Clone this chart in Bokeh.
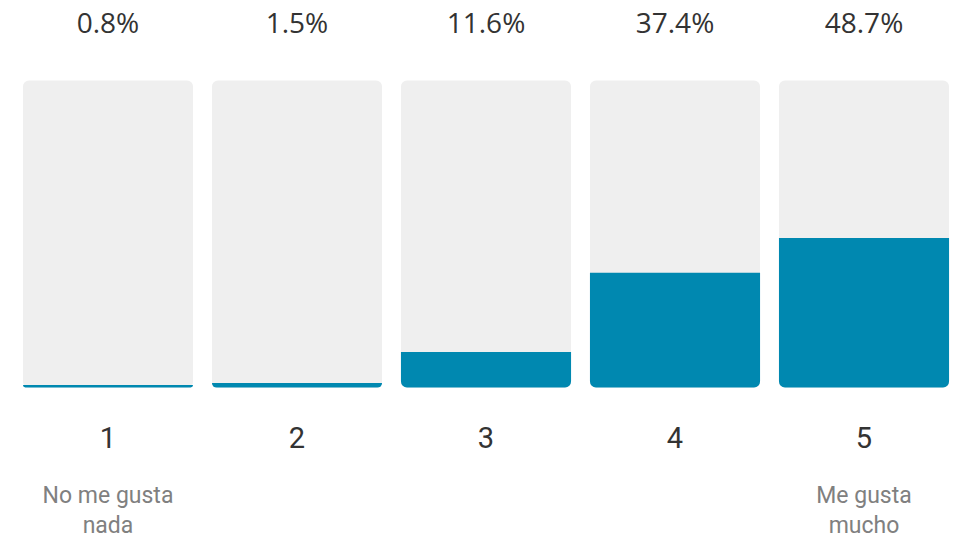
from bokeh.plotting import figure
from bokeh.models import ColumnDataSource, Range1d
from bokeh.core.properties import value
from bokeh.embed import file_html
from bokeh.resources import INLINE

ratings = ["1", "2", "3", "4", "5"]
percents = [0.8, 1.5, 11.6, 37.4, 48.7]
pct_labels = ["0.8%", "1.5%", "11.6%", "37.4%", "48.7%"]
end_labels = ["No me gusta\nnada", "", "", "", "Me gusta\nmucho"]

xs = list(range(len(ratings)))
src = ColumnDataSource(dict(
    x=xs, pct=percents, full=[100] * len(xs),
    pct_label=pct_labels, rating=ratings, end=end_labels,
))

p = figure(width=953, height=538, output_backend="svg", toolbar_location=None,
           x_axis_location=None, y_axis_location=None,
           x_range=Range1d(-0.5688, 4.4735), y_range=Range1d(-49.19, 126.06),
           min_border=0, outline_line_color=None, background_fill_color="white",
           border_fill_color="white")
p.xgrid.visible = False
p.ygrid.visible = False

p.vbar(x="x", top="full", bottom=0, width=0.9, source=src,
       fill_color="#efefef", line_color=None, border_radius=6)
p.vbar(x="x", top="pct", bottom=0, width=0.9, source=src,
       fill_color="#0088b0", line_color=None, border_radius=(0, 0, 6, 6))

p.text(x="x", y=118.9, text="pct_label", source=src, text_align="center",
       text_baseline="middle", text_font=value("Open Sans"),
       text_font_size="28px", text_color="#333333")
p.text(x="x", y=-16.3, text="rating", source=src, text_align="center",
       text_baseline="middle", text_font=value("Roboto"),
       text_font_size="29px", text_color="#333333")
p.text(x="x", y=-40.0, text="end", source=src, text_align="center",
       text_baseline="middle", text_font=value("Roboto"),
       text_font_size="23px", text_color="#808080", text_line_height=1.1)

open("out.html", "w").write(file_html(p, INLINE))
